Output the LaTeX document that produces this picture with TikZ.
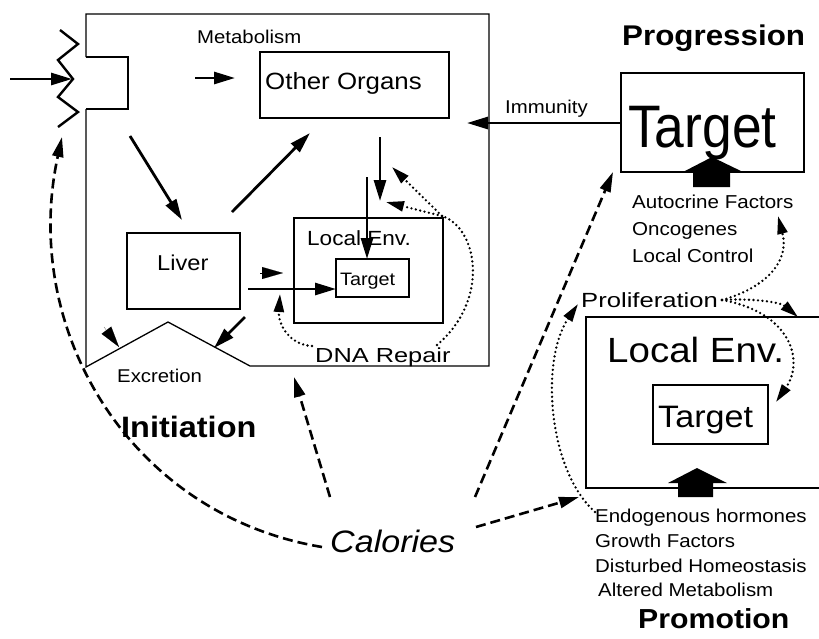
\documentclass[tikz,border=0pt]{standalone}
\usepackage{fontspec}
\setmainfont{Liberation Sans}[FakeStretch=1.1]
\newfontfamily\narrowfont{Liberation Sans}[FakeStretch=0.89]
\newfontfamily\widefont{Liberation Sans}[FakeStretch=1.25]
\usetikzlibrary{arrows.meta}
\newcommand{\sizeto}[1]{\fontsize{#1}{#1}\selectfont}

\begin{document}
\begin{tikzpicture}[x=1pt,y=-1pt,
	box/.style={draw, line width=1.3pt, inner sep=0pt},
	lbl/.style={anchor=base west, inner sep=0pt},
	arr/.style={line width=2.8pt, -{Triangle[length=21pt,width=12pt]}},
	dasharr/.style={line width=2.6pt, dash pattern=on 10pt off 5pt, -{Triangle[length=20pt,width=11pt]}},
	dotline/.style={line width=2.6pt, line cap=round, dash pattern=on 0pt off 4.5pt},
	dotarr/.style={dotline, -{Triangle[length=18pt,width=10pt]}}]
	\clip (0,0) rectangle (819,638);
	
	\node[box, minimum width=189pt, minimum height=66pt] (organs) at (354.5,85) {};
	\node[box, minimum width=113pt, minimum height=76pt] (liver) at (183.5,271) {};
	\node[box, minimum width=149pt, minimum height=105pt] (envA) at (368.5,270.5) {};
	\node[box, minimum width=73pt, minimum height=38pt] (tgtA) at (372.5,278) {};
	\node[box, minimum width=183pt, minimum height=99pt] (tgtB) at (712.5,122.5) {};
	\node[box, minimum width=240pt, minimum height=171pt] (envB) at (706,402.5) {};
	\node[box, minimum width=115pt, minimum height=59pt] (tgtC) at (710.5,414.5) {};
	
	\node[lbl, font=\sizeto{18.5}] (metab) at (197,43) {Metabolism};
	\node[lbl, font=\sizeto{23.5}] (organslbl) at (265,89) {Other Organs};
	\node[lbl, font=\sizeto{21.5}] (liverlbl) at (157,270) {Liver};
	\node[lbl, font=\sizeto{20.5}] (envAlbl) at (307,245) {Local Env.};
	\node[lbl, font=\sizeto{18}] (tgtAlbl) at (340,285) {Target};
	\node[lbl, font=\sizeto{18.5}] (excr) at (117,382) {Excretion};
	\node[lbl, font=\widefont\sizeto{20.3}] (dna) at (315,362) {DNA Repair};
	\node[lbl, font=\bfseries\sizeto{29.5}] (init) at (121,437) {Initiation};
	\node[lbl, font=\itshape\sizeto{31}] (cal) at (330,552) {Calories};
	\node[lbl, font=\sizeto{18.5}] (immun) at (505,113) {Immunity};
	\node[lbl, font=\bfseries\sizeto{28.5}] (prog) at (622,45) {Progression};
	\node[lbl, font=\narrowfont\sizeto{60}] (tgtBlbl) at (628,147) {Target};
	\node[lbl, font=\sizeto{18.7}] (auto) at (632,208) {Autocrine Factors};
	\node[lbl, font=\sizeto{18.7}] (onco) at (632,235) {Oncogenes};
	\node[lbl, font=\sizeto{18.7}] (locc) at (632,262) {Local Control};
	\node[lbl, font=\widefont\sizeto{20.5}] (prolif) at (581,307) {Proliferation};
	\node[lbl, font=\sizeto{35}] (envBlbl) at (607,362) {Local Env.};
	\node[lbl, font=\sizeto{31}] (tgtClbl) at (658,427) {Target};
	\node[lbl, font=\sizeto{18.6}] (endo) at (595,522) {Endogenous hormones};
	\node[lbl, font=\sizeto{18.6}] (growth) at (595,547) {Growth Factors};
	\node[lbl, font=\sizeto{18.6}] (dist) at (595,572) {Disturbed Homeostasis};
	\node[lbl, font=\sizeto{18.6}] (alt) at (598,596) {Altered Metabolism};
	\node[lbl, font=\bfseries\sizeto{27.5}] (prom) at (638,628) {Promotion};
	
	\coordinate (inS) at (10,79);
	\coordinate (inE) at (72,79);
	\coordinate (metS) at (195,78);
	\coordinate (metE) at (235,78);
	\coordinate (lvS) at (130,136);
	\coordinate (lvE) at (182,220);
	\coordinate (orS) at (232,212);
	\coordinate (orE) at (310,133);
	\coordinate (dnS) at (380,137);
	\coordinate (dnE) at (380,201);
	\coordinate (tgS) at (367,177);
	\coordinate (tgE) at (367,259);
	\coordinate (hzS) at (248,289);
	\coordinate (hzE) at (336,289);
	\coordinate (hdS) at (260,273);
	\coordinate (hdE) at (283,273);
	\coordinate (exS) at (245,317);
	\coordinate (exE) at (214,348);
	\coordinate (ehS) at (104,327);
	\coordinate (ehE) at (119,347);
	\coordinate (imS) at (621,123);
	\coordinate (imE) at (467,123);
	\coordinate (dnaR) at (437,345);
	\coordinate (fork) at (442,216);
	\coordinate (rep1) at (392,167);
	\coordinate (rep2) at (386,202);
	\coordinate (dnaL) at (312,346);
	\coordinate (rep3) at (280,294);
	\coordinate (prR) at (722,300);
	\coordinate (autoE) at (778,216);
	\coordinate (cornE) at (798,317);
	\coordinate (tgtCE) at (776,402);
	\coordinate (endoS) at (595,512);
	\coordinate (prL) at (578,304);
	\coordinate (calL) at (322,547);
	\coordinate (zz) at (62,137);
	\coordinate (calM1) at (330,497);
	\coordinate (mainB) at (294,377);
	\coordinate (calM2) at (475,497);
	\coordinate (tgtBin) at (613,172);
	\coordinate (calR) at (476,527);
	\coordinate (envBin) at (579,497);
	
	\draw[line width=1.3pt] (86,57) -- (86,14) -- (489,14) -- (489,366) -- (250,366) -- (168,322) -- (86,367) -- (86,109);
	\draw[line width=2.2pt] (86,57) -- (128,57) -- (128,109) -- (86,109);
	\draw[line width=2.4pt] (60,30) -- (78,44) -- (58,60) -- (73,79) -- (58,97) -- (78,112) -- (58,127);
	
	\fill (683,172) -- (712,157) -- (743,172) -- (730,172) -- (730,187) -- (693,187) -- (693,172) -- cycle;
	\fill (668,483) -- (697,468) -- (727,483) -- (713,483) -- (713,497) -- (678,497) -- (678,483) -- cycle;
	
	\draw[arr] (inS) -- (inE);
	\draw[arr] (metS) -- (metE);
	\draw[arr] (lvS) -- (lvE);
	\draw[arr] (orS) -- (orE);
	\draw[arr] (dnS) -- (dnE);
	\draw[arr] (tgS) -- (tgE);
	\draw[arr] (hzS) -- (hzE);
	\draw[arr, line width=0.1pt] (hdS) -- (hdE);
	\draw[arr] (exS) -- (exE);
	\draw[arr, line width=0.1pt] (ehS) -- (ehE);
	\draw[arr] (imS) -- (imE);
	
	\draw[dotline] (dnaR) .. controls (490,300) and (478,228) .. (fork);
	\draw[dotarr] (fork) -- (rep1);
	\draw[dotarr] (fork) -- (rep2);
	\draw[dotarr] (dnaL) .. controls (290,345) and (278,325) .. (rep3);
	\draw[dotarr] (prR) .. controls (765,288) and (790,262) .. (autoE);
	\draw[dotarr] (prR) .. controls (750,298) and (780,302) .. (cornE);
	\draw[dotarr] (prR) .. controls (790,312) and (805,360) .. (tgtCE);
	\draw[dotarr] (endoS) .. controls (548,470) and (540,360) .. (prL);
	
	\draw[dasharr] (calL) .. controls (130,515) and (20,330) .. (zz);
	\draw[dasharr] (calM1) -- (mainB);
	\draw[dasharr] (calM2) -- (tgtBin);
	\draw[dasharr] (calR) -- (envBin);
\end{tikzpicture}
\end{document}
